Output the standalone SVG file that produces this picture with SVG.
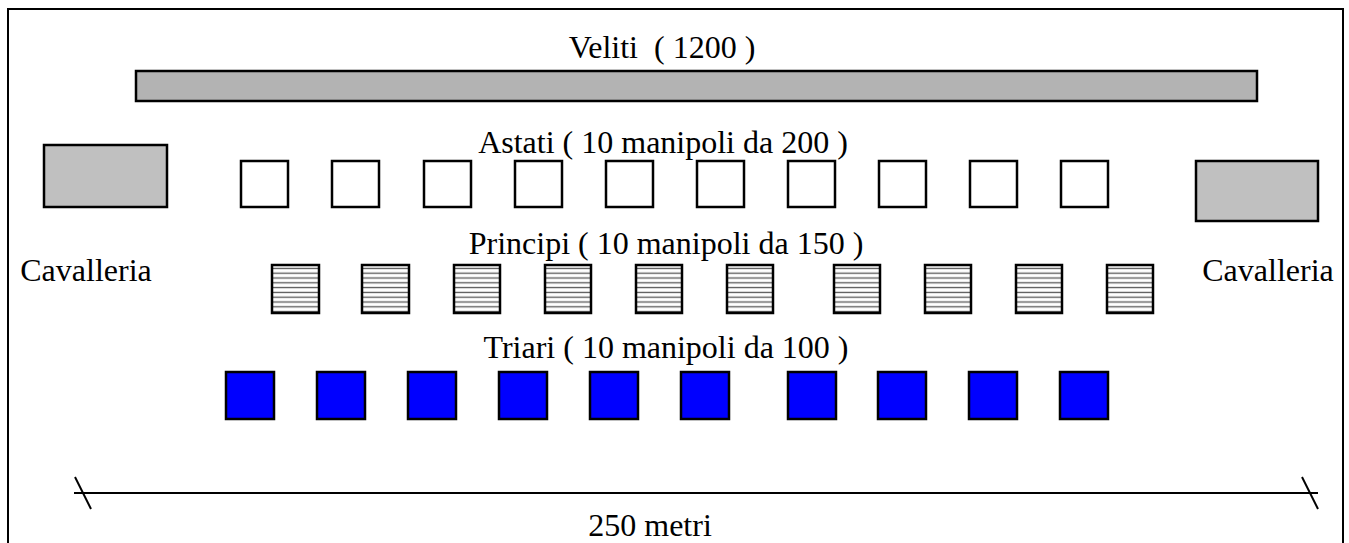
<svg xmlns="http://www.w3.org/2000/svg" width="1349" height="543" viewBox="0 0 1349 543">
<defs>
<pattern id="hatch" patternUnits="userSpaceOnUse" x="0" y="266" width="6" height="4.8">
<rect width="6" height="4.8" fill="#ffffff"/>
<line x1="0" y1="2.4" x2="6" y2="2.4" stroke="#555" stroke-width="1.3"/>
</pattern>
</defs>
<style>
text{font-family:'Liberation Serif',serif;font-size:32px;fill:#000;text-anchor:middle}
.box{stroke:#000;stroke-width:2.5}
.ast{fill:#fff}
.pri{fill:url(#hatch)}
.tri{fill:#0000ff}
.cav{fill:#c0c0c0}
.vel{fill:#b3b3b3}
.ln{stroke:#000;stroke-width:2;fill:none}
</style>
<rect width="1349" height="543" fill="#fff"/>
<path class="ln" d="M8,543 V9 H1343 V543"/>

<g id="veliti">
<text x="662" y="58" xml:space="preserve">Veliti  ( 1200 )</text>
<rect class="box vel" x="136" y="71" width="1121" height="30"/>
</g>

<g id="cavalleria-sx">
<rect class="box cav" x="44" y="145" width="123" height="62"/>
<text x="86" y="281">Cavalleria</text>
</g>
<g id="cavalleria-dx">
<rect class="box cav" x="1196" y="161" width="122" height="60"/>
<text x="1268" y="281">Cavalleria</text>
</g>

<g id="astati">
<text x="663" y="153">Astati ( 10 manipoli da 200 )</text>
<rect class="box ast" x="241" y="161" width="47" height="46"/>
<rect class="box ast" x="332" y="161" width="47" height="46"/>
<rect class="box ast" x="424" y="161" width="47" height="46"/>
<rect class="box ast" x="515" y="161" width="47" height="46"/>
<rect class="box ast" x="606" y="161" width="47" height="46"/>
<rect class="box ast" x="697" y="161" width="47" height="46"/>
<rect class="box ast" x="788" y="161" width="47" height="46"/>
<rect class="box ast" x="879" y="161" width="47" height="46"/>
<rect class="box ast" x="970" y="161" width="47" height="46"/>
<rect class="box ast" x="1061" y="161" width="47" height="46"/>
</g>

<g id="principi">
<text x="666" y="254">Principi ( 10 manipoli da 150 )</text>
<rect class="box pri" x="272" y="265" width="47" height="48"/>
<rect class="box pri" x="362" y="265" width="47" height="48"/>
<rect class="box pri" x="454" y="265" width="46" height="48"/>
<rect class="box pri" x="545" y="265" width="46" height="48"/>
<rect class="box pri" x="636" y="265" width="46" height="48"/>
<rect class="box pri" x="727" y="265" width="46" height="48"/>
<rect class="box pri" x="834" y="265" width="46" height="48"/>
<rect class="box pri" x="925" y="265" width="46" height="48"/>
<rect class="box pri" x="1016" y="265" width="46" height="48"/>
<rect class="box pri" x="1107" y="265" width="46" height="48"/>
</g>

<g id="triari">
<text x="666" y="358">Triari ( 10 manipoli da 100 )</text>
<rect class="box tri" x="226" y="372" width="48" height="47"/>
<rect class="box tri" x="317" y="372" width="48" height="47"/>
<rect class="box tri" x="408" y="372" width="48" height="47"/>
<rect class="box tri" x="499" y="372" width="48" height="47"/>
<rect class="box tri" x="590" y="372" width="48" height="47"/>
<rect class="box tri" x="681" y="372" width="48" height="47"/>
<rect class="box tri" x="788" y="372" width="48" height="47"/>
<rect class="box tri" x="878" y="372" width="48" height="47"/>
<rect class="box tri" x="969" y="372" width="48" height="47"/>
<rect class="box tri" x="1060" y="372" width="48" height="47"/>
</g>

<g id="scala">
<line class="ln" x1="74" y1="493" x2="1318" y2="493"/>
<line class="ln" x1="75" y1="477" x2="91" y2="509"/>
<line class="ln" x1="1302" y1="477" x2="1318" y2="509"/>
<text x="650" y="536">250 metri</text>
</g>
</svg>
